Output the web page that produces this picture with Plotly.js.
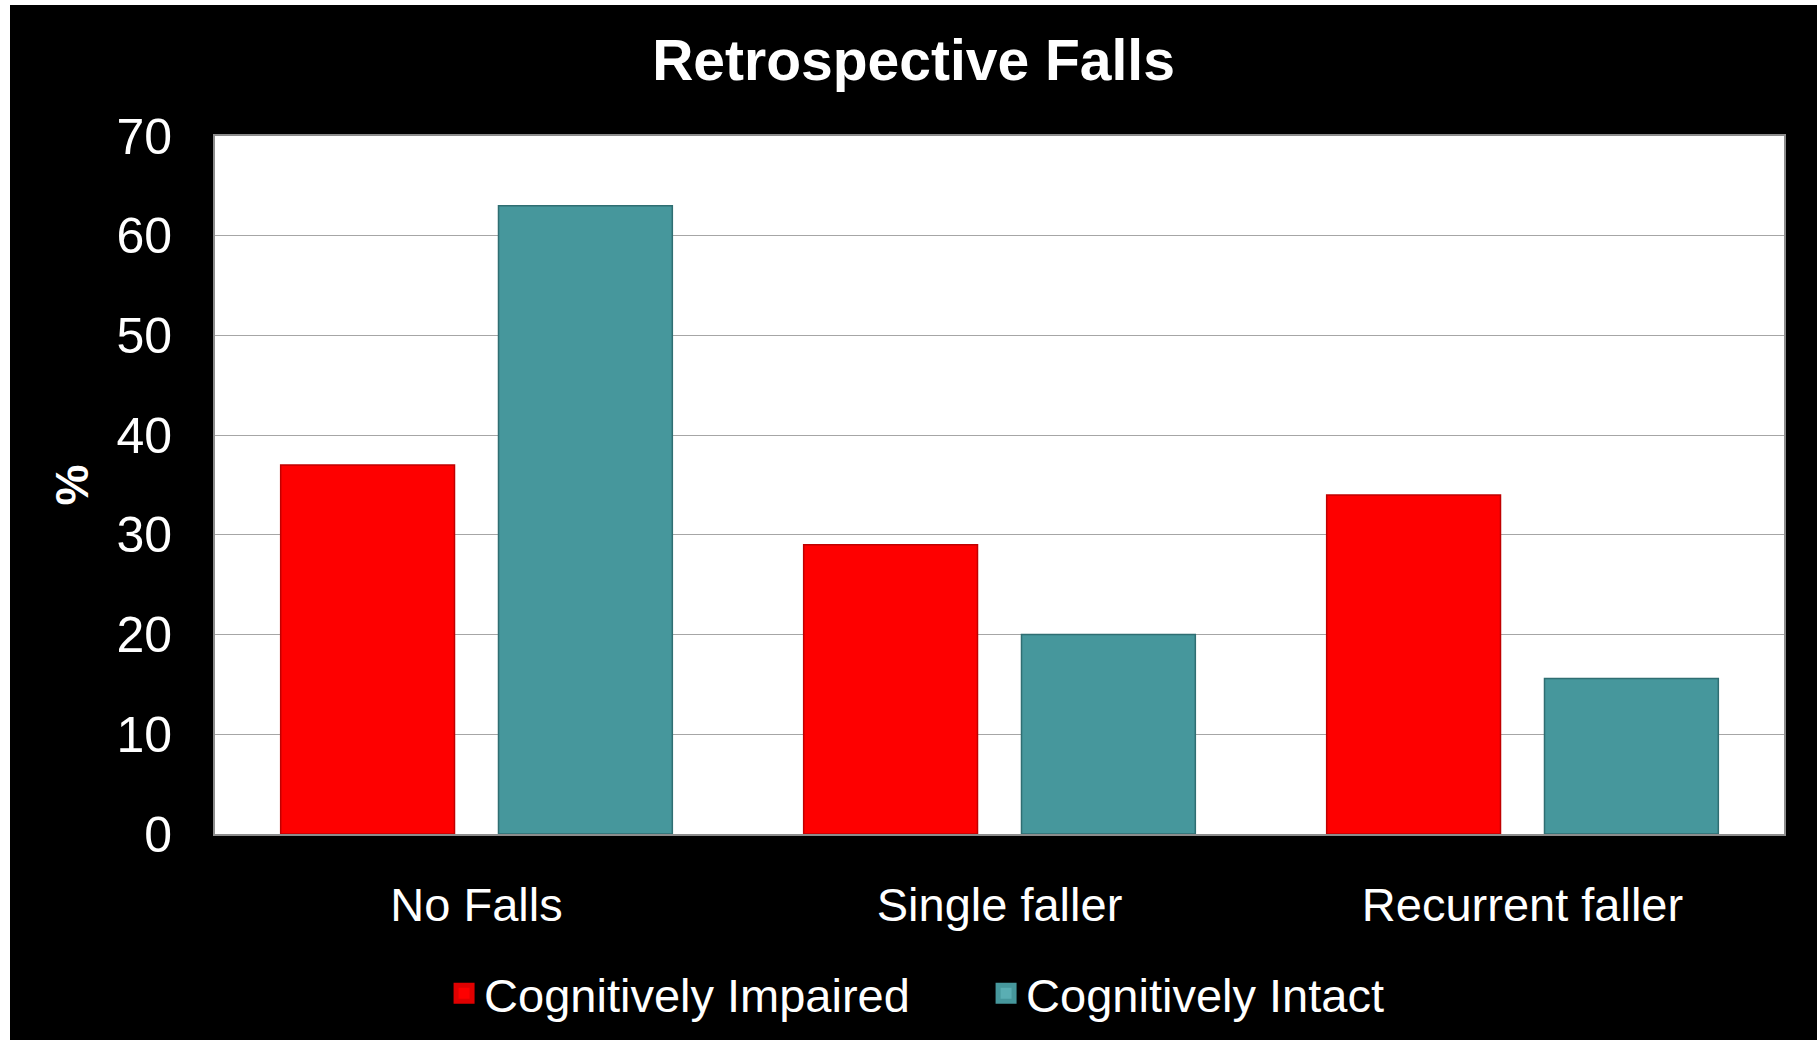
<!DOCTYPE html>
<html>
<head>
<meta charset="utf-8">
<script src="https://cdn.plot.ly/plotly-3.0.1.min.js"></script>
<style>
  html, body { margin: 0; padding: 0; background: #ffffff; }
  #chart { position: absolute; left: 10px; top: 5px; width: 1807px; height: 1035px; }
</style>
</head>
<body>
<div id="chart"></div>
<script>
const categories = ["No Falls", "Single faller", "Recurrent faller"];
const impaired = [37, 29, 34];
const intact = [63, 20, 15.6];
const seriesNames = ["Cognitively Impaired", "Cognitively Intact"];
const yTicks = [0, 10, 20, 30, 40, 50, 60, 70];

const FONT = "Liberation Sans, Arial, sans-serif";
const RED = "#fe0000", RED_EDGE = "#c00000";
const TEAL = "#46979c", TEAL_EDGE = "#2f6e72";

const traces = [
  {
    type: "bar",
    name: seriesNames[0],
    x: categories,
    y: impaired,
    showlegend: false,
    marker: { color: RED, line: { color: RED_EDGE, width: 1.5 } },
    hoverinfo: "x+y"
  },
  {
    type: "bar",
    name: seriesNames[1],
    x: categories,
    y: intact,
    showlegend: false,
    marker: { color: TEAL, line: { color: TEAL_EDGE, width: 1.5 } },
    hoverinfo: "x+y"
  },
  // legend entries (larger square swatches, as in the reference)
  {
    type: "scatter", mode: "markers", name: seriesNames[0],
    x: [null], y: [null], hoverinfo: "skip",
    marker: { symbol: "square", size: 16, color: RED, line: { color: "#e00000", width: 5 } }
  },
  {
    type: "scatter", mode: "markers", name: seriesNames[1],
    x: [null], y: [null], hoverinfo: "skip",
    marker: { symbol: "square", size: 16, color: "#5aaeb3", line: { color: TEAL, width: 5 } }
  }
];

const layout = {
  width: 1807,
  height: 1035,
  paper_bgcolor: "#000000",
  plot_bgcolor: "#ffffff",
  margin: { l: 205, r: 33, t: 131, b: 206, pad: 0 },
  barmode: "group",
  bargap: 0.167,
  bargroupgap: 0.202,
  font: { family: FONT, color: "#ffffff", size: 47 },
  title: {
    text: "<b>Retrospective Falls</b>",
    font: { family: FONT, size: 57, color: "#ffffff" },
    x: 0.5, xref: "container", xanchor: "center",
    y: 0.947, yref: "container", yanchor: "middle"
  },
  xaxis: {
    type: "category",
    showgrid: false,
    showline: true,
    linecolor: "#8c8c8c",
    linewidth: 2,
    mirror: true,
    ticks: "",
    ticklabelstandoff: 29,
    tickfont: { family: FONT, size: 47, color: "#ffffff" }
  },
  yaxis: {
    range: [0, 70],
    tickvals: yTicks,
    ticktext: yTicks.map(String),
    showgrid: true,
    gridcolor: "#a6a6a6",
    gridwidth: 1,
    zeroline: false,
    showline: true,
    linecolor: "#8c8c8c",
    linewidth: 2,
    mirror: true,
    ticks: "",
    ticklabelstandoff: 31,
    tickfont: { family: FONT, size: 50, color: "#ffffff" },
    title: {
      text: "<b>%</b>",
      font: { family: FONT, size: 46, color: "#ffffff" },
      standoff: 13
    }
  },
  showlegend: true,
  legend: {
    orientation: "h",
    x: 0.146, xanchor: "left", xref: "paper",
    y: 0.0447, yanchor: "middle", yref: "container",
    bgcolor: "rgba(0,0,0,0)",
    font: { family: FONT, size: 47, color: "#ffffff" },
    entrywidth: 497,
    entrywidthmode: "pixels",
    traceorder: "normal"
  }
};

Plotly.newPlot("chart", traces, layout, { displayModeBar: false, staticPlot: true });
</script>
</body>
</html>
